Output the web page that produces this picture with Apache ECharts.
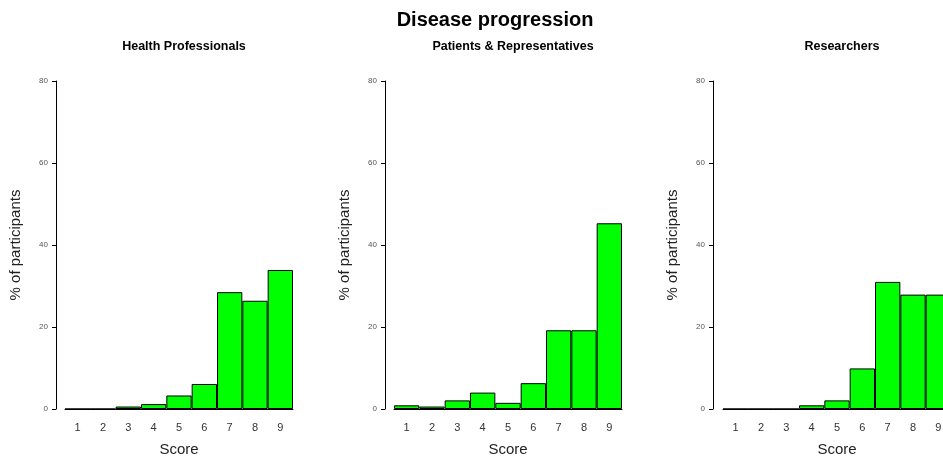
<!DOCTYPE html>
<html>
<head>
<meta charset="utf-8">
<script src="https://cdn.jsdelivr.net/npm/echarts@6/dist/echarts.min.js"></script>
<style>
  html, body { margin: 0; padding: 0; background: #fff; overflow: hidden; }
  /* a bit wider than the window so the last panel is cut off at the right like the original */
  #chart { width: 960px; height: 466px; }
</style>
</head>
<body>
<div id="chart"></div>
<script>
// score categories
const scores = ['1', '2', '3', '4', '5', '6', '7', '8', '9']
const yTicks = [0, 20, 40, 60, 80]

// % of participants per score
const healthProfessionals = [0, 0, 0.6, 1.2, 3.3, 6.1, 28.5, 26.4, 33.9]
const patientsReps = [0.9, 0.6, 2.1, 4.0, 1.5, 6.3, 19.2, 19.2, 45.3]
const researchers = [0, 0, 0, 0.9, 2.1, 9.9, 31.0, 27.9, 27.9]

const panelNames = ['Health Professionals', 'Patients & Representatives', 'Researchers']
const panelData = [healthProfessionals, patientsReps, researchers]

// layout of each panel (px)
const panelLeft = [65, 394, 723]
const axisOffset = [9, 9, 10]
const panelWidth = 228

const chart = echarts.init(document.getElementById('chart'))

const font = 'Liberation Sans, Arial, sans-serif'

const grids = [], xAxes = [], yAxes = [], series = [], titles = []

titles.push({
    text: 'Disease progression',
    left: 490, top: 5, textAlign: 'center',
    textStyle: { fontSize: 20, fontWeight: 'bold', color: '#000', fontFamily: font }
})

panelData.forEach((data, i) => {
    grids.push({ left: panelLeft[i], width: panelWidth, top: 81, height: 328 })
    titles.push({
        text: panelNames[i],
        left: panelLeft[i] + panelWidth / 2, top: 35, textAlign: 'center',
        textStyle: { fontSize: 12.5, fontWeight: 'bold', color: '#000', fontFamily: font }
    })
    xAxes.push({
        type: 'category',
        gridIndex: i,
        data: scores,
        boundaryGap: true,
        name: 'Score',
        nameLocation: 'middle',
        nameGap: 33,
        nameTextStyle: { fontSize: 15, color: '#222', fontFamily: font },
        axisLine: { show: true, lineStyle: { color: '#000', width: 1 } },
        axisTick: { show: false },
        axisLabel: { fontSize: 11, color: '#333', margin: 13, fontFamily: font },
        splitLine: { show: false }
    })
    yAxes.push({
        type: 'value',
        gridIndex: i,
        min: 0, max: 80, interval: 20,
        offset: axisOffset[i],
        name: '% of participants',
        nameLocation: 'middle',
        nameGap: 33,
        nameRotate: 90,
        nameTextStyle: { fontSize: 15, color: '#222', fontFamily: font },
        axisLine: { show: true, lineStyle: { color: '#000', width: 1 } },
        axisTick: { show: true, length: 4, lineStyle: { color: '#000' } },
        axisLabel: {
            fontSize: 8, color: '#555', margin: 8, fontFamily: font,
            formatter: v => yTicks.includes(v) ? String(v) : ''
        },
        splitLine: { show: false }
    })
    series.push({
        type: 'bar',
        xAxisIndex: i,
        yAxisIndex: i,
        data: data,
        barCategoryGap: '0%',
        itemStyle: { color: '#00ff00', borderColor: '#000', borderWidth: 1 },
        silent: true
    })
})

chart.setOption({
    animation: false,
    backgroundColor: '#fff',
    title: titles,
    grid: grids,
    xAxis: xAxes,
    yAxis: yAxes,
    series: series
})

window.addEventListener('resize', function () {
    chart.resize()
})
</script>
</body>
</html>
